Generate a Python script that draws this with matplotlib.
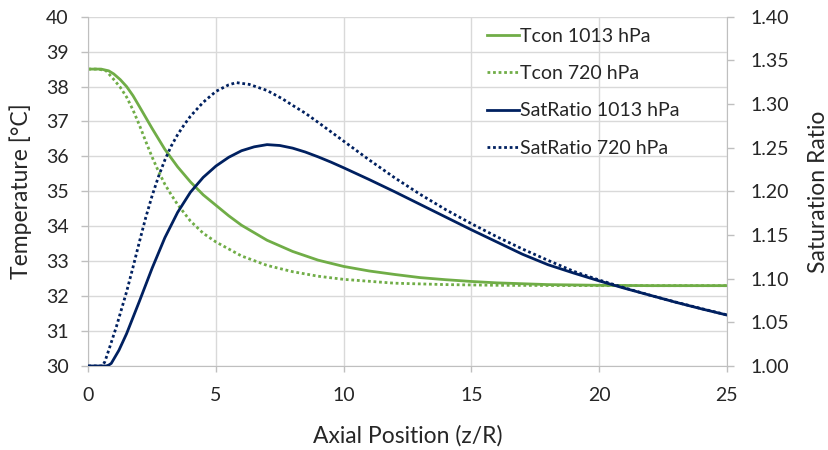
import matplotlib
matplotlib.use("Agg")
import matplotlib.pyplot as plt

plt.rcParams['font.family'] = ['Lato', 'DejaVu Sans']

# Tcon 1013 hPa (left axis, degC)
x_t1013 = [0, 0.5, 0.8, 1.0, 1.25, 1.5, 1.75, 2.0, 2.5, 3.0, 3.5, 4.0, 4.5, 5, 5.5, 6, 7, 8, 9, 10, 11, 12, 13, 14,
           15, 16, 18, 20, 22, 25]
t1013 = [38.5, 38.5, 38.45, 38.36, 38.2, 38.0, 37.74, 37.43, 36.8, 36.2, 35.7, 35.27, 34.9, 34.6, 34.3, 34.03,
         33.6, 33.28, 33.03, 32.85, 32.72, 32.62, 32.53, 32.47, 32.42, 32.38, 32.33, 32.31, 32.3, 32.3]

# Tcon 720 hPa
x_t720 = [0, 0.4, 0.7, 1.0, 1.25, 1.5, 1.75, 2.0, 2.25, 2.5, 2.75, 3.0, 3.25, 3.5, 4.0, 4.5, 5, 6, 7, 8, 9, 10, 12,
          14, 16, 20, 25]
t720 = [38.5, 38.5, 38.45, 38.2, 37.98, 37.7, 37.33, 36.9, 36.43, 35.98, 35.57, 35.2, 34.9, 34.62, 34.15, 33.8,
        33.55, 33.15, 32.88, 32.7, 32.57, 32.48, 32.37, 32.33, 32.31, 32.3, 32.3]

# SatRatio 1013 hPa (right axis)
x_s1013 = [0, 0.7, 0.8, 0.9, 1.0, 1.2, 1.5, 2.0, 2.5, 3.0, 3.5, 4.0, 4.5, 5, 5.5, 6, 6.5, 7, 7.5, 8, 8.5, 9, 9.5,
           10, 11, 12, 13, 14, 15, 16, 17, 18, 19, 20, 21, 22, 23, 24, 25]
s1013 = [1.0, 1.0, 1.001, 1.003, 1.008, 1.018, 1.037, 1.074, 1.112, 1.147, 1.176, 1.199, 1.216, 1.229, 1.239,
         1.2465, 1.251, 1.2535, 1.2525, 1.2495, 1.245, 1.2395, 1.2335, 1.227, 1.2135, 1.1995, 1.185, 1.1705,
         1.156, 1.142, 1.128, 1.116, 1.1065, 1.0975, 1.089, 1.081, 1.073, 1.0655, 1.0584]

# SatRatio 720 hPa
x_s720 = [0, 0.55, 0.65, 0.8, 1.1, 1.5, 1.75, 2.0, 2.25, 2.5, 2.75, 3.0, 3.25, 3.5, 3.75, 4.0, 4.5, 5, 5.5, 5.8,
          6.3, 7, 7.6, 8, 8.5, 9, 10, 11, 12, 13, 14, 15, 16, 17, 18, 19, 20, 21, 22, 23, 24, 25]
s720 = [1.0, 1.0, 1.005, 1.018, 1.045, 1.085, 1.113, 1.142, 1.17, 1.195, 1.217, 1.236, 1.252, 1.265, 1.276,
        1.286, 1.302, 1.3145, 1.322, 1.3245, 1.3225, 1.3155, 1.306, 1.2985, 1.2895, 1.279, 1.2575, 1.236,
        1.2155, 1.1965, 1.179, 1.163, 1.148, 1.134, 1.121, 1.1085, 1.0985, 1.0895, 1.081, 1.0732, 1.0658, 1.0586]

x_ticks = [0, 5, 10, 15, 20, 25]
t_ticks = [30, 31, 32, 33, 34, 35, 36, 37, 38, 39, 40]
s_ticks = [1.00, 1.05, 1.10, 1.15, 1.20, 1.25, 1.30, 1.35, 1.40]

green = '#70AD47'
navy = '#002060'
grid_c = '#D9D9D9'
spine_c = '#BFBFBF'
txt_c = '#262626'
dots = (0, (1, 1.0))

fig = plt.figure(figsize=(8.29, 4.5), dpi=100)
ax = fig.add_axes([0.1065, 0.1867, 0.7701, 0.7762])
ax2 = ax.twinx()

l1, = ax.plot(x_t1013, t1013, color=green, lw=2.0, label='Tcon 1013 hPa')
l2, = ax.plot(x_t720, t720, color=green, lw=2.0, ls=dots, label='Tcon 720 hPa')
l3, = ax2.plot(x_s1013, s1013, color=navy, lw=2.0, label='SatRatio 1013 hPa')
l4, = ax2.plot(x_s720, s720, color=navy, lw=2.0, ls=dots, label='SatRatio 720 hPa')

ax.set_xlim(0, 25)
ax.set_ylim(30, 40)
ax2.set_ylim(1.0, 1.4)
ax.set_xticks(x_ticks)
ax.set_yticks(t_ticks)
ax2.set_yticks(s_ticks)
ax2.set_yticklabels(['%.2f' % v for v in s_ticks])

ax.grid(True, color=grid_c, lw=1.0)
ax.set_axisbelow(True)

for a in (ax, ax2):
    a.spines['top'].set_visible(False)
    for s in ('left', 'right', 'bottom'):
        a.spines[s].set_color(spine_c)
ax.spines['right'].set_visible(False)
ax2.spines['left'].set_visible(False)
ax2.spines['bottom'].set_visible(False)

ax.tick_params(axis='y', length=5, width=1, color=spine_c, pad=9, labelsize=14, labelcolor=txt_c)
ax.tick_params(axis='x', length=4, width=1, color=spine_c, pad=11, labelsize=14, labelcolor=txt_c)
ax2.tick_params(axis='y', length=5, width=1, color=spine_c, pad=12, labelsize=14, labelcolor=txt_c)

ax.set_xlabel('Axial Position (z/R)', fontsize=16.5, color=txt_c, labelpad=15)
ax.set_ylabel('Temperature [°C]', fontsize=16.5, color=txt_c, labelpad=10)
ax2.set_ylabel('Saturation Ratio', fontsize=16.5, color=txt_c, labelpad=14)

ax2.legend(handles=[l1, l2, l3, l4], loc='upper left', bbox_to_anchor=(0.624, 0.968), frameon=False,
           fontsize=14, handlelength=1.65, handletextpad=0.05, labelspacing=1.04, borderpad=0, borderaxespad=0,
           labelcolor=txt_c)

fig.savefig('out.png', dpi=100)
